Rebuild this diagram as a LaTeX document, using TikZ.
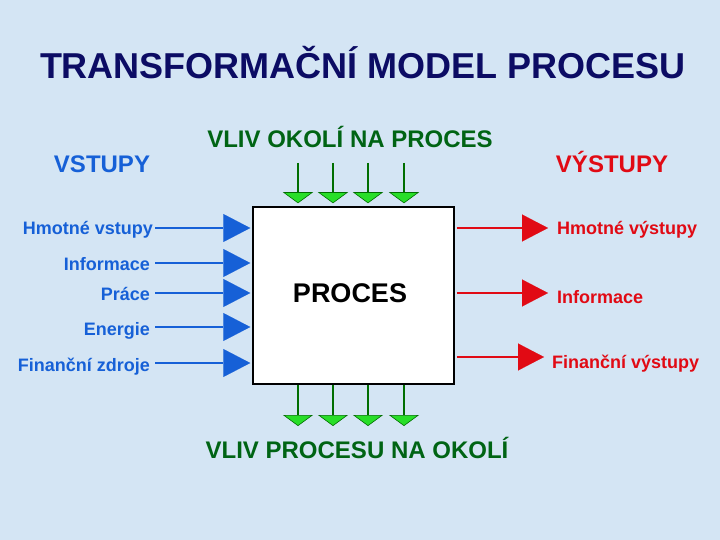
\documentclass[tikz,border=0pt]{standalone}
\usepackage{fontspec}
\setmainfont{Liberation Sans}
\usetikzlibrary{arrows.meta}
\definecolor{bgblue}{RGB}{212,229,244}
\definecolor{navy}{RGB}{12,12,100}
\definecolor{inblue}{RGB}{22,96,215}
\definecolor{outred}{RGB}{225,10,20}
\definecolor{txtgreen}{RGB}{0,100,20}
\definecolor{arrgreen}{RGB}{40,222,40}
\definecolor{linegreen}{RGB}{0,110,0}
\begin{document}
\begin{tikzpicture}[x=1pt,y=-1pt,
  lbl/.style={inner sep=0pt, font=\fontsize{18}{20}\selectfont\bfseries},
  inlbl/.style={lbl, text=inblue, anchor=base east},
  outlbl/.style={lbl, text=outred, anchor=base west},
  head/.style={inner sep=0pt, anchor=base, font=\fontsize{24}{28}\selectfont\bfseries},
  barrow/.style={draw=inblue, line width=2pt, -{Triangle[length=27pt,width=28pt,line width=0.1pt]}, shorten >=2pt},
  rarrow/.style={draw=outred, line width=2pt, -{Triangle[length=26pt,width=27pt,line width=0.1pt]}, shorten <=2pt},
  garrow/.style={draw=linegreen, line width=1.2pt, -{Triangle[length=11pt,width=30pt,fill=arrgreen,line width=0.6pt]}}
]
\fill[bgblue] (0,0) rectangle (720,540);
\useasboundingbox (0,0) rectangle (720,540);

% title and headings
\node[inner sep=0pt, anchor=base, text=navy, font=\fontsize{36}{40}\selectfont\bfseries] (title) at (363,79) {TRANSFORMAČNÍ MODEL PROCESU};
\node[head, text=inblue] (vstupy) at (102,173) {VSTUPY};
\node[head, text=txtgreen] (vlivokoli) at (350,148) {VLIV OKOLÍ NA PROCES};
\node[head, text=outred] (vystupy) at (612,173) {VÝSTUPY};
\node[head, text=txtgreen] (vlivprocesu) at (357,458) {VLIV PROCESU NA OKOLÍ};

% process box
\node[draw=black, fill=white, line width=1.5pt, minimum width=201pt, minimum height=177pt, inner sep=0pt] (box) at (353.5,295.5) {};
\node[inner sep=0pt, anchor=base, font=\fontsize{27}{30}\selectfont\bfseries] (proc) at (350,302) {PROCES};

% inputs
\node[inlbl] (l1) at (153,234) {Hmotné vstupy};
\node[inlbl] (l2) at (150,270) {Informace};
\node[inlbl] (l3) at (150,300) {Práce};
\node[inlbl] (l4) at (150,335) {Energie};
\node[inlbl] (l5) at (150,371) {Finanční zdroje};
\coordinate (b1) at (155,228);
\coordinate (b2) at (155,263);
\coordinate (b3) at (155,293);
\coordinate (b4) at (155,327);
\coordinate (b5) at (155,363);
\foreach \i in {1,...,5}{\draw[barrow] (b\i) -- (b\i -| box.west);}

% outputs
\node[outlbl] (o1) at (557,234) {Hmotné výstupy};
\node[outlbl] (o2) at (557,303) {Informace};
\node[outlbl] (o3) at (552,368) {Finanční výstupy};
\coordinate (r1) at (548,228);
\coordinate (r2) at (548,293);
\coordinate (r3) at (544,357);
\foreach \i in {1,2,3}{\draw[rarrow] (box.east |- r\i) -- (r\i);}

% environment influence
\foreach \i/\x in {1/298,2/333,3/368,4/404}{
  \coordinate (g\i) at (\x,163);
  \coordinate (h\i) at (\x,426);
  \draw[garrow, shorten >=3pt] (g\i) -- (g\i |- box.north);
  \draw[garrow] (box.south -| h\i) -- (h\i);
}
\end{tikzpicture}
\end{document}
